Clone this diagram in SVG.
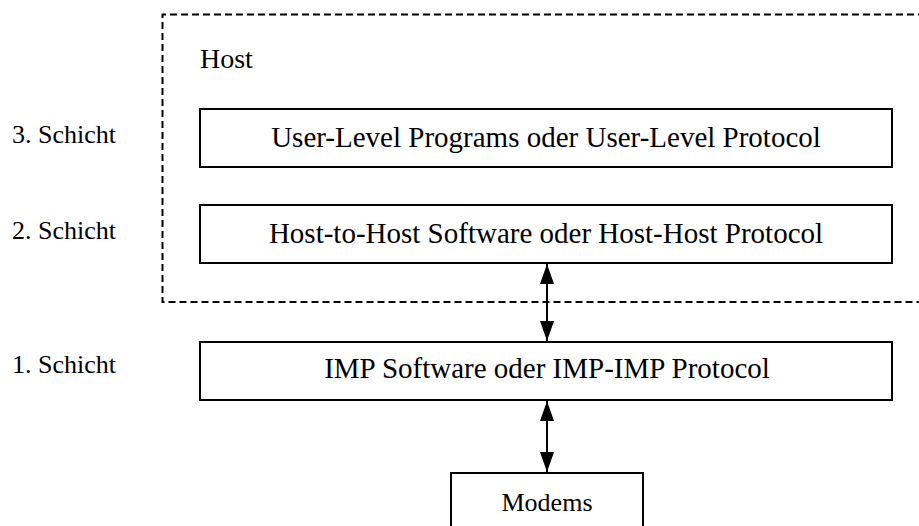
<svg xmlns="http://www.w3.org/2000/svg" width="919" height="526" viewBox="0 0 919 526">
  <defs>
    <marker id="ah" viewBox="0 0 20 14" refX="20" refY="7" markerWidth="20" markerHeight="14" markerUnits="userSpaceOnUse" orient="auto-start-reverse">
      <path d="M0,0 L20,7 L0,14 Z" fill="#000"/>
    </marker>
    <style>
      .box { fill: #fff; stroke: #000; stroke-width: 2; }
      .t { font-family: "Liberation Serif", "Times New Roman", serif; fill: #000; }
      .big { font-size: 29px; text-anchor: middle; }
      .lab { font-size: 26px; }
      .dash { fill: none; stroke: #000; stroke-width: 2; stroke-dasharray: 7 4; }
      .conn { stroke: #000; stroke-width: 2; fill: none; }
    </style>
  </defs>
  <rect width="919" height="526" fill="#fff"/>
  <g id="host">
    <path class="dash" d="M925,14.5 H162.5 V302 H925"/>
    <text class="t" x="200" y="68" font-size="28">Host</text>
  </g>
  <g id="labels">
    <text class="t lab" x="12" y="143">3. Schicht</text>
    <text class="t lab" x="12" y="239">2. Schicht</text>
    <text class="t lab" x="12" y="373">1. Schicht</text>
  </g>
  <g id="layer3">
    <rect class="box" x="200" y="109" width="692" height="58"/>
    <text class="t big" x="546" y="147">User-Level Programs oder User-Level Protocol</text>
  </g>
  <g id="layer2">
    <rect class="box" x="200" y="205" width="692" height="58"/>
    <text class="t big" x="546" y="243">Host-to-Host Software oder Host-Host Protocol</text>
  </g>
  <g id="layer1">
    <rect class="box" x="200" y="342" width="692" height="58"/>
    <text class="t big" x="547" y="378">IMP Software oder IMP-IMP Protocol</text>
  </g>
  <g id="modems">
    <rect class="box" x="451" y="473" width="192" height="70"/>
    <text class="t lab" x="547" y="511" text-anchor="middle">Modems</text>
  </g>
  <g id="connectors">
    <line class="conn" x1="547" y1="264" x2="547" y2="341" marker-start="url(#ah)" marker-end="url(#ah)"/>
    <line class="conn" x1="547" y1="401" x2="547" y2="472" marker-start="url(#ah)" marker-end="url(#ah)"/>
  </g>
</svg>
